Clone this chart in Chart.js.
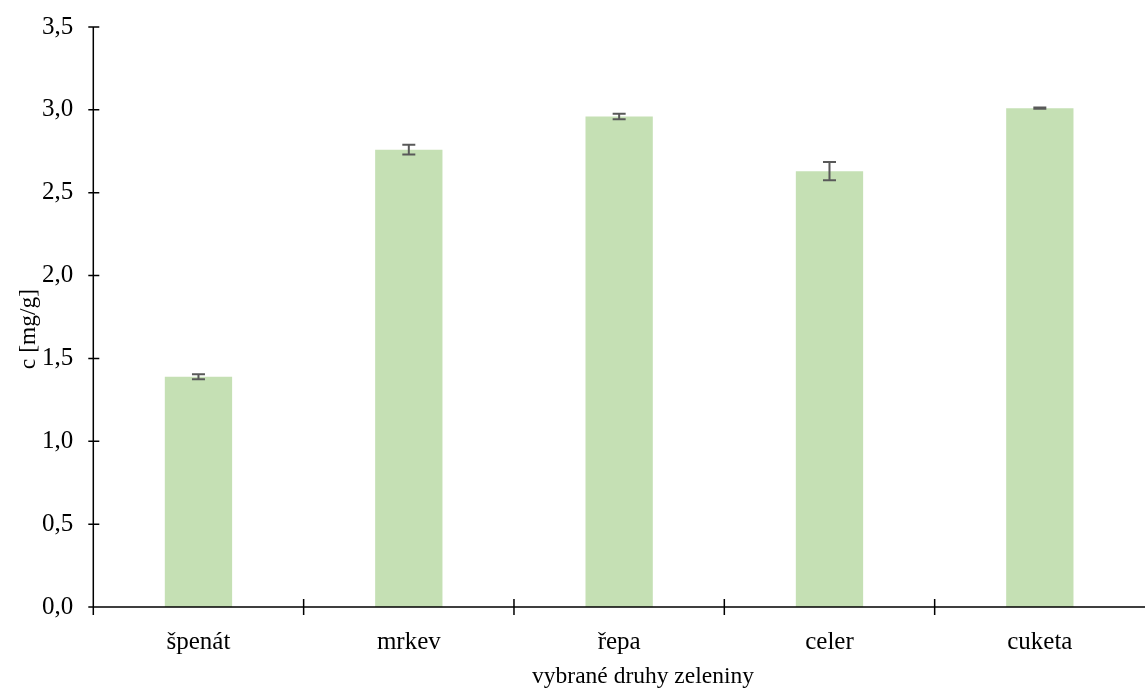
<!DOCTYPE html>
<html>
<head>
<meta charset="utf-8">
<script src="https://cdn.jsdelivr.net/npm/chart.js@4.4.1/dist/chart.umd.min.js"></script>
<style>
  html, body { margin: 0; padding: 0; background: #ffffff; }
  #wrap { width: 1145px; height: 691px; position: relative; }
</style>
</head>
<body>
<div id="wrap"><canvas id="c"></canvas></div>
<script>
// Categories and measured concentrations (mg/g) with standard deviations
const categories = ['špenát', 'mrkev', 'řepa', 'celer', 'cuketa'];
const values = [1.39, 2.76, 2.96, 2.63, 3.01];
const errors = [0.015, 0.03, 0.017, 0.055, 0.004];
const yTicks = [0, 0.5, 1.0, 1.5, 2.0, 2.5, 3.0, 3.5];
const xTitle = 'vybrané druhy zeleniny';
const yTitle = 'c [mg/g]';

const FONT = '"Liberation Serif", "Times New Roman", serif';
const TEXT_SIZE = 25;
const TITLE_SIZE = 23.5;
const AXIS_COLOR = '#000000';

// Axis lines with tick marks that cross the axis, drawn on top of the bars
const axesPlugin = {
  id: 'crossAxes',
  afterDatasetsDraw(chart) {
    const { ctx, chartArea, scales } = chart;
    const xs = scales.x, ys = scales.y;
    const x0 = ys.left + ys.width;
    const y0 = ys.getPixelForValue(0);
    ctx.save();
    ctx.strokeStyle = AXIS_COLOR;
    ctx.lineWidth = 1.5;
    ctx.beginPath();
    // y axis
    ctx.moveTo(x0, ys.getPixelForValue(3.5));
    ctx.lineTo(x0, y0 + 8);
    // x axis
    ctx.moveTo(x0 - 5, y0);
    ctx.lineTo(chartArea.right, y0);
    // y ticks
    yTicks.forEach(v => {
      const y = ys.getPixelForValue(v);
      ctx.moveTo(x0 - 5, y);
      ctx.lineTo(x0 + 6, y);
    });
    // x category boundaries
    for (let i = 1; i < categories.length; i++) {
      const x = (xs.getPixelForValue(i - 1) + xs.getPixelForValue(i)) / 2;
      ctx.moveTo(x, y0 - 8);
      ctx.lineTo(x, y0 + 8);
    }
    ctx.stroke();
    ctx.restore();
  }
};

// Standard deviation whiskers
const errorPlugin = {
  id: 'errorBars',
  afterDatasetsDraw(chart) {
    const { ctx, scales } = chart;
    const meta = chart.getDatasetMeta(0);
    ctx.save();
    ctx.strokeStyle = '#595959';
    ctx.lineWidth = 2;
    meta.data.forEach((bar, i) => {
      const x = bar.x;
      const yHi = scales.y.getPixelForValue(values[i] + errors[i]);
      const yLo = scales.y.getPixelForValue(values[i] - errors[i]);
      ctx.beginPath();
      ctx.moveTo(x, yHi); ctx.lineTo(x, yLo);
      ctx.moveTo(x - 6.5, yHi); ctx.lineTo(x + 6.5, yHi);
      ctx.moveTo(x - 6.5, yLo); ctx.lineTo(x + 6.5, yLo);
      ctx.stroke();
    });
    ctx.restore();
  }
};

// Axis titles
const titlesPlugin = {
  id: 'axisTitles',
  afterDraw(chart) {
    const { ctx } = chart;
    ctx.save();
    ctx.fillStyle = '#000000';
    ctx.font = TITLE_SIZE + 'px ' + FONT;
    ctx.textAlign = 'center';
    ctx.textBaseline = 'middle';
    ctx.fillText(xTitle, 643, 677);
    ctx.translate(29, 329);
    ctx.rotate(-Math.PI / 2);
    ctx.fillText(yTitle, 0, 0);
    ctx.restore();
  }
};

new Chart(document.getElementById('c'), {
  type: 'bar',
  data: {
    labels: categories,
    datasets: [{
      data: values,
      backgroundColor: '#c5e0b4',
      borderWidth: 0,
      categoryPercentage: 1.0,
      barPercentage: 0.32
    }]
  },
  options: {
    responsive: true,
    maintainAspectRatio: false,
    animation: false,
    devicePixelRatio: 1,
    layout: { padding: { top: 27, right: -5, bottom: 0, left: 0 } },
    plugins: {
      legend: { display: false },
      tooltip: { enabled: false }
    },
    scales: {
      x: {
        type: 'category',
        offset: true,
        grid: { display: false, drawTicks: false },
        border: { display: false },
        ticks: {
          color: '#000000',
          font: { family: FONT, size: TEXT_SIZE },
          padding: 20,
          maxRotation: 0
        },
        afterFit(scale) {
          scale.height = 84;
          scale.paddingLeft = 0;
          scale.paddingRight = 0;
        }
      },
      y: {
        min: 0,
        max: 3.5,
        grid: { display: false, drawTicks: false },
        border: { display: false },
        afterBuildTicks(scale) { scale.ticks = yTicks.map(v => ({ value: v })); },
        ticks: {
          color: '#000000',
          font: { family: FONT, size: TEXT_SIZE },
          padding: 20,
          callback: v => Number(v).toFixed(1).replace('.', ',')
        },
        afterFit(scale) {
          scale.width = 93.3;
          scale.paddingTop = 0;
          scale.paddingBottom = 0;
        }
      }
    }
  },
  plugins: [axesPlugin, errorPlugin, titlesPlugin]
});
</script>
</body>
</html>
